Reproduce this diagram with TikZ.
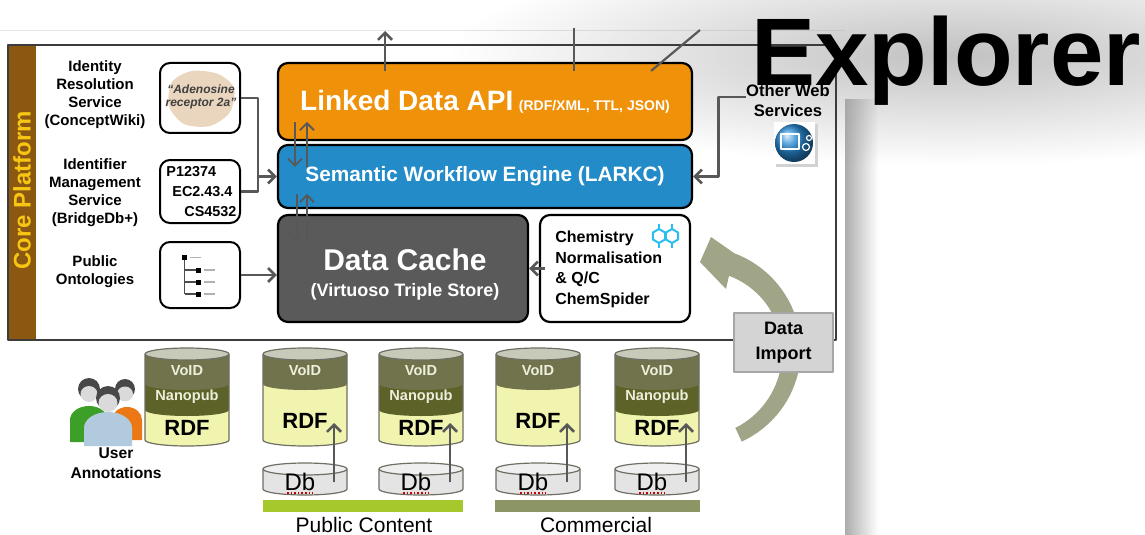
\documentclass[tikz,border=0pt]{standalone}
\usepackage{fontspec}
\setmainfont{Liberation Sans}
\usetikzlibrary{calc}
\usetikzlibrary{arrows.meta}
\usetikzlibrary{fadings}
\usepackage{xcolor}

\definecolor{corebrown}{RGB}{139,88,18}
\definecolor{coreyellow}{RGB}{246,198,18}
\definecolor{apiorange}{RGB}{240,145,10}
\definecolor{sweblue}{RGB}{35,140,200}
\definecolor{cachegray}{RGB}{90,90,90}
\definecolor{arrowgray}{RGB}{88,88,88}
\definecolor{framegray}{RGB}{60,60,60}
\definecolor{voidolive}{RGB}{112,115,75}
\definecolor{nanoolive}{RGB}{92,98,40}
\definecolor{voidtext}{RGB}{238,238,220}
\definecolor{rdfyellow}{RGB}{240,244,175}
\definecolor{cyltop}{RGB}{200,202,185}
\definecolor{cylline}{RGB}{110,110,100}
\definecolor{dbgray}{RGB}{228,228,228}
\definecolor{pubgreen}{RGB}{165,200,45}
\definecolor{comolive}{RGB}{140,150,100}
\definecolor{importgray}{RGB}{212,212,212}
\definecolor{arcolive}{RGB}{160,165,135}
\definecolor{blobtan}{RGB}{234,214,190}
\definecolor{chemcyan}{RGB}{40,190,240}
\definecolor{owsblue}{RGB}{40,140,215}
\definecolor{persgreen}{RGB}{60,160,40}
\definecolor{persorange}{RGB}{235,120,20}
\definecolor{persblue}{RGB}{178,202,222}
\definecolor{hairgray}{RGB}{72,72,72}
\definecolor{facegray}{RGB}{218,218,218}

% 标题光晕用的径向渐隐
\tikzfading[name=haze, inner color=transparent!35, outer color=transparent!100]

% 数据库圆柱:#1 = 中心 x,#2 = 编号,#3 = 1 表示带 Nanopub 层
\newcommand{\rdfcyl}[3]{%
    \fill[rdfyellow] (#1-42,354) -- (#1-42,440) arc(180:0:42 and 6) -- (#1+42,354) -- cycle;
    \ifnum#3=1
        \fill[nanoolive] (#1-42,354) -- (#1-42,410) arc(180:0:42 and 6) -- (#1+42,354) -- cycle;
    \fi
    \fill[voidolive] (#1-42,354) -- (#1-42,384) arc(180:0:42 and 6) -- (#1+42,354) -- cycle;
    \filldraw[fill=cyltop, draw=cylline, line width=0.6pt] (#1,354) ellipse (42 and 6);
    \draw[cylline, line width=0.6pt] (#1-42,354) -- (#1-42,440) arc(180:0:42 and 6) -- (#1+42,354);
    \node[cyl_void] (void#2) at (#1,371) {VoID};
    \ifnum#3=1
        \node[cyl_void] (nano#2) at (#1,397) {Nanopub};
        \node[cyl_rdf] (rdf#2) at (#1,428) {RDF};
    \else
        \node[cyl_rdf] (rdf#2) at (#1,421) {RDF};
    \fi
}

% 原始数据库小圆盘:#1 = 中心 x,#2 = 编号
\newcommand{\dbdisk}[2]{%
    \filldraw[fill=dbgray, draw=cylline, line width=0.6pt] (#1-42,469) -- (#1-42,489) arc(180:0:42 and 6) -- (#1+42,469) -- cycle;
    \filldraw[fill=dbgray!60!white, draw=cylline, line width=0.6pt] (#1,469) ellipse (42 and 6);
    \node[db_text] (db#2) at (#1-5,482) {Db};
    \draw[red!80!black, densely dotted, line width=0.8pt] (#1-18,493) -- (#1+8,493);
}

\begin{document}
\begin{tikzpicture}[x=0.5pt, y=-0.5pt, line join=round]
    % ================= 样式定义 =================
    \tikzset{
        % 大模块:圆角黑边
        block/.style={draw=black, line width=1.1pt, rounded corners=5pt, inner sep=0pt},
        % 左侧小输入框
        inbox/.style={draw=black, line width=1pt, rounded corners=5pt, fill=white, inner sep=0pt, minimum width=40pt},
        % 左侧服务名称
        svc_label/.style={align=center, inner sep=0pt, font=\bfseries\fontsize{7.5}{9}\selectfont},
        % 灰色连线与箭头
        link/.style={draw=arrowgray, line width=1.3pt},
        arrow/.style={link, -{Straight Barb[length=3.5pt, width=7pt]}},
        thin_arrow/.style={arrow, line width=0.9pt},
        % 圆柱文字
        cyl_void/.style={text=voidtext, font=\bfseries\fontsize{7.3}{8}\selectfont, inner sep=0pt},
        cyl_rdf/.style={text=black, font=\bfseries\fontsize{11}{12}\selectfont, inner sep=0pt},
        db_text/.style={font=\fontsize{12}{12}\selectfont, inner sep=0pt},
        bar_text/.style={font=\fontsize{10.5}{12}\selectfont, inner sep=0pt},
        title/.style={anchor=base west, inner sep=0pt, font=\bfseries\fontsize{48}{48}\selectfont}
    }

    \useasboundingbox (0,0) rectangle (1145,535);

    % ================= 幻灯片背景与阴影 =================
    \shade[left color=gray!65, right color=white] (845,100) rectangle (878,535);
    \draw[gray!20] (0,30) -- (845,30);

    % 标题后的灰色光晕
    \fill[gray!75, path fading=haze] (450,-55) rectangle (1450,165);

    % ================= Core Platform 外框 =================
    \fill[corebrown] (8,45) rectangle (36,340);
    \draw[framegray, line width=0.7pt] (8,45) rectangle (836,340);
    \node[rotate=90, text=coreyellow, inner sep=0pt, font=\bfseries\fontsize{12}{13}\selectfont] (core) at (22,190) {Core Platform};

    % 左侧服务名称
    \node[svc_label] (irs) at (95,95) {Identity\\Resolution\\Service\\(ConceptWiki)};
    \node[svc_label] (ims) at (95,193) {Identifier\\Management\\Service\\(BridgeDb+)};
    \node[svc_label] (onto) at (95,272) {Public\\Ontologies};

    % 左侧输入框
    \node[inbox, minimum height=35pt] (cwbox) at (200,98) {};
    \fill[blobtan] plot[smooth cycle] coordinates {(172,82) (192,71) (218,74) (234,88) (230,112) (210,126) (184,124) (169,106)};
    \node[align=center, inner sep=0pt, text=black!75, font=\bfseries\itshape\fontsize{6}{6.6}\selectfont] (cwtxt) at (201,97) {``Adenosine\\receptor 2a''};

    \node[inbox, minimum height=31.5pt] (idbox) at (200,191.5) {};
    \node[anchor=west, align=left, inner sep=0pt, font=\bfseries\fontsize{7.2}{10}\selectfont] (idtxt) at (166,191.5) {P12374\\\hspace{3pt}EC2.43.4\\\hspace{9pt}CS4532};

    \node[inbox, minimum height=33pt] (ontbox) at (200,275) {};
    % 本体树小图标
    \fill[black] (182,255) rectangle (187,260);
    \draw[gray!60, line width=0.8pt] (190,257.5) -- (201,257.5);
    \draw[black!70, line width=0.8pt] (184.5,260) -- (184.5,294);
    \foreach \ty in {270,282,294} {
        \draw[black!70, line width=0.8pt] (184.5,\ty) -- (196,\ty);
        \fill[black] (196,\ty-2.5) rectangle (201,\ty+2.5);
        \draw[gray!60, line width=0.8pt] (204,\ty) -- (215,\ty);
    }

    % ================= 中间三层 =================
    \node[block, fill=apiorange, minimum width=207pt, minimum height=38.5pt, text=white, font=\bfseries] (api) at (485,101.5)
        {{\fontsize{14}{14}\selectfont Linked Data API} {\fontsize{7}{7}\selectfont (RDF/XML, TTL, JSON)}};
    \node[block, fill=sweblue, minimum width=207pt, minimum height=31.5pt, text=white, font=\bfseries\fontsize{10.4}{12}\selectfont] (swe) at (485,176.5)
        {Semantic Workflow Engine (LARKC)};
    \node[block, fill=cachegray, minimum width=125pt, minimum height=53.5pt] (cache) at (403,268.5) {};
    \node[align=center, inner sep=0pt, text=white, font=\bfseries] (cachetxt) at (405,274)
        {{\fontsize{15}{15}\selectfont Data Cache}\\[1pt]{\fontsize{9}{10}\selectfont (Virtuoso Triple Store)}};
    \node[block, fill=white, minimum width=75pt, minimum height=53.5pt] (chem) at (615,268.5) {};
    \node[anchor=north west, align=left, inner sep=0pt, font=\bfseries\fontsize{8}{10.2}\selectfont] (chemtxt) at (555,231)
        {Chemistry\\Normalisation\\\&~Q/C\\ChemSpider};
    % 分子小图标
    \foreach \hx in {659,672} {
        \draw[chemcyan, line width=1pt] (\hx,236) +(30:7) -- +(90:7) -- +(150:7) -- +(210:7) -- +(270:7) -- +(330:7) -- cycle;
        \draw[chemcyan, line width=1pt] (\hx,236) +(90:7) -- +(90:12) +(270:7) -- +(270:12);
    }

    % ================= 其他 Web 服务 =================
    \node[align=center, inner sep=0pt, font=\bfseries\fontsize{8.3}{10}\selectfont] (ows) at (788,101) {Other Web\\Services};
    \fill[gray!35] (776,124) rectangle (818,167);
    \fill[white] (774,122) rectangle (815,164);
    \shade[ball color=owsblue] (794,143) circle (19);
    \draw[white, line width=0.8pt] (781,134) rectangle (799,149);
    \draw[white, line width=0.6pt] (806,147) circle (3.5) (809,138) circle (2.5);

    % ================= 连线 =================
    \coordinate (join) at (258,176.5);
    \draw[link] (cwbox.east) -| (join);
    \draw[link] (idbox.east) -| (join);
    \draw[arrow] (join) -- (swe.west);
    \draw[arrow] (ontbox.east) -- (ontbox.east -| cache.west);
    \draw[arrow] ([xshift=3pt]chem.west) -- (cache.east);
    \draw[arrow] ([yshift=2pt]ows.west) -- ++(-27,0) |- (swe.east);

    % 层间双向箭头
    \draw[thin_arrow] ([xshift=9pt,yshift=11pt]swe.north west) -- ([xshift=9pt,yshift=-11.5pt]swe.north west);
    \draw[thin_arrow] ([xshift=15pt,yshift=-11.5pt]swe.north west) -- ([xshift=15pt,yshift=11pt]swe.north west);
    \draw[thin_arrow] ([xshift=10pt,yshift=10pt]cache.north west) -- ([xshift=10pt,yshift=-14pt]cache.north west);
    \draw[thin_arrow] ([xshift=15pt,yshift=-14pt]cache.north west) -- ([xshift=15pt,yshift=10pt]cache.north west);

    % 向上输出
    \coordinate (out1) at (385,31);
    \coordinate (out2) at (574,28);
    \coordinate (out3) at (700,30);
    \draw[arrow] ([yshift=-4.5pt]api.north -| out1) -- (out1);
    \draw[link] ([yshift=-4.5pt]api.north -| out2) -- (out2);
    \draw[link, line width=1.1pt] ([xshift=-21pt,yshift=-4.5pt]api.north east) -- (out3);

    % ================= 数据导入弧形箭头 =================
    \fill[arcolive] plot[domain=-65:70, samples=40] ({699+(101+(\x+65)/135*2)*cos(\x)}, {350-(101+(\x+65)/135*2)*sin(\x)})
        -- (711,237) -- (700,262) -- (726,289)
        -- plot[domain=68:-65, samples=40] ({699+(80+(68-\x)/133*6)*cos(\x)}, {350-(80+(68-\x)/133*6)*sin(\x)}) -- cycle;
    \node[draw=gray!70, line width=0.8pt, fill=importgray, minimum width=49.5pt, minimum height=29.5pt, inner sep=0pt,
          align=center, font=\bfseries\fontsize{9}{12.5}\selectfont] (import) at (783.5,342.5) {Data\\Import};

    % ================= 用户标注 =================
    \fill[persgreen] (70,442) -- (70,420) arc(180:360:19 and 14) -- (108,442) -- cycle;
    \fill[hairgray] (89,389) circle (11);
    \fill[facegray] (89,394) ellipse (8.5 and 8);
    \fill[persorange] (112,440) -- (112,420) arc(180:360:15 and 13) -- (142,440) -- cycle;
    \fill[hairgray] (125,389) circle (10);
    \fill[facegray] (125,394) ellipse (8 and 7.5);
    \fill[persblue] (84,446) -- (84,428) arc(180:360:24 and 16) -- (132,446) -- cycle;
    \fill[hairgray] (108,398) circle (12);
    \fill[facegray] (108,403) ellipse (9.5 and 9);
    \node[align=center, inner sep=0pt, font=\bfseries\fontsize{7.8}{10}\selectfont] (user) at (116,463) {User\\Annotations};

    % ================= RDF 数据集 =================
    \rdfcyl{187}{1}{1}
    \rdfcyl{305}{2}{0}
    \rdfcyl{421}{3}{1}
    \rdfcyl{538}{4}{0}
    \rdfcyl{657}{5}{1}

    \foreach \c/\n in {305/2, 421/3, 538/4, 657/5} {
        \dbdisk{\c}{\n}
        \coordinate (tip\n) at (\c+29,423);
        \draw[arrow] (db\n.center -| tip\n) -- (tip\n);
    }

    % 底部分组条
    \fill[pubgreen] (263,500) rectangle (463,512);
    \fill[comolive] (495,500) rectangle (700,512);
    \node[bar_text] (pub) at (364,525) {Public Content};
    \node[bar_text] (com) at (596,525) {Commercial};

    % ================= 标题 =================
    \node[title] (title) at (751,86) {Explorer};

\end{tikzpicture}
\end{document}
